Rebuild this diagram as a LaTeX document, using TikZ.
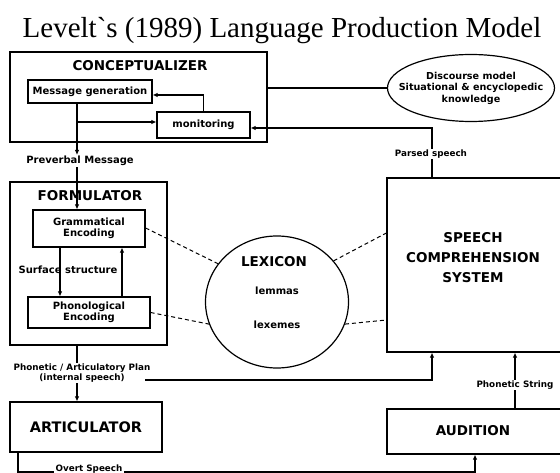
\documentclass[tikz,border=0pt]{standalone}
\usepackage{fontspec}
\usetikzlibrary{arrows.meta,shapes.geometric,calc}
\newfontfamily\titlefont{Liberation Serif}
\newfontfamily\labfont{DejaVu Sans}
\tikzset{
  box/.style={draw, line width=1.2pt, rectangle, inner sep=0pt},
  big/.style={font=\labfont\bfseries\fontsize{13.5}{15}\selectfont, inner sep=1pt, align=center},
  small/.style={font=\labfont\bfseries\fontsize{10}{11.5}\selectfont, inner sep=1pt, align=center},
  tiny/.style={font=\labfont\bfseries\fontsize{8.8}{10}\selectfont, inner sep=1pt, align=center},
  conn/.style={line width=1.6pt},
  arr/.style={line width=1.6pt, -{Latex[length=5pt,width=4.5pt]}},
  lexdash/.style={line width=1pt, dash pattern=on 4pt off 3pt},
  wlab/.style={fill=white, inner sep=1.5pt}
}
\begin{document}
\begin{tikzpicture}[x=1pt,y=-1pt]
\useasboundingbox[fill=white] (0,0) rectangle (560,473);
\clip (0,0) rectangle (560,473);
% title
\node[font=\titlefont\fontsize{29}{32}\selectfont, inner sep=0pt] (title) at (282,31) {Levelt\char"60s (1989) Language Production Model};
% conceptualizer
\node[box, minimum width=257pt, minimum height=90pt] (conc) at (138.5,97) {};
\node[big] (conct) at (140,66) {CONCEPTUALIZER};
\node[box, minimum width=124pt, minimum height=23pt, small] (mg) at (90,91.5) {Message generation};
\node[box, minimum width=93pt, minimum height=26pt, small] (mon) at (203.5,125) {monitoring};
% discourse ellipse
\node[draw, line width=1.2pt, ellipse, minimum width=167pt, minimum height=67pt, inner sep=0pt] (ell) at (471,88) {};
\node[small, font=\labfont\bfseries\fontsize{9.6}{11.5}\selectfont] (ellt) at (471,88) {Discourse model\\Situational \& encyclopedic\\knowledge};
% formulator
\node[box, minimum width=157pt, minimum height=163pt] (form) at (88.5,263.5) {};
\node[big] (formt) at (90,196) {FORMULATOR};
\node[box, minimum width=112pt, minimum height=37pt, small] (ge) at (89,228.5) {Grammatical\\Encoding};
\node[box, minimum width=122pt, minimum height=31pt, small] (pe) at (89,312.5) {Phonological\\Encoding};
\node[small] (ss) at (68,270) {Surface structure};
% lexicon
\node[draw, line width=1.2pt, ellipse, minimum width=143pt, minimum height=132pt, inner sep=0pt] (lex) at (277,302) {};
\node[big] (lext) at (274,262) {LEXICON};
\node[small] (lem) at (277,291) {lemmas};
\node[small] (lxm) at (277,325) {lexemes};
% speech comprehension
\node[box, minimum width=183pt, minimum height=174pt] (sc) at (478.5,265) {};
\node[big, font=\labfont\bfseries\fontsize{13.5}{20}\selectfont] (sct) at (473,258) {SPEECH\\COMPREHENSION\\SYSTEM};
% articulator, audition
\node[box, minimum width=152pt, minimum height=50pt, big, font=\labfont\bfseries\fontsize{14.5}{16}\selectfont] (art) at (86,427) {ARTICULATOR};
\node[box, minimum width=183pt, minimum height=45pt] (aud) at (478.5,431.5) {};
\node[big] (audt) at (473,431) {AUDITION};
% labels on connectors
\node[small] (pm) at (80,161) {Preverbal Message};
\node[tiny] (ps) at (431,154) {Parsed speech};
\node[tiny] (plan) at (82,373) {Phonetic / Articulatory Plan\\(internal speech)};
\node[tiny] (phs) at (515,385) {Phonetic String};
% connectors in conceptualizer
\coordinate (br) at (77,122);
\draw[arr] (mg.south -| br) -- (pm.north -| br);
\draw[arr] (br) -- (br -| mon.west);
\draw[arr] (mon.north) |- ([yshift=-3.5pt]mg.east);
\draw[arr] (pm.south -| br) -- (ge.north -| br);
\draw[conn] (conc.east |- ell.west) -- (ell.west);
\draw[conn] (sc.north -| 432,0) -- (ps.south -| 432,0);
\draw[arr] (ps.north -| 432,0) |- ([yshift=-3pt]mon.east);
% formulator internal
\draw[arr] (ge.south -| 60,0) -- (pe.north -| 60,0);
\draw[arr] (pe.north -| 122,0) -- (ge.south -| 122,0);
% lexicon dashed links
\draw[lexdash] (ge.east |- 0,228) -- (lex.147);
\draw[lexdash] (pe.east) -- (lex.198);
\draw[lexdash] (lex.36) -- (sc.west |- 0,233);
\draw[lexdash] (lex.-18) -- (sc.west |- 0,320);
% formulator to articulator
\draw[conn] (form.south -| 77,0) -- (plan.north -| 77,0);
\draw[arr] (plan.south -| 77,0) -- (art.north -| 77,0);
\coordinate (ip) at (145,380);
\draw[arr] (ip) -| (sc.south -| 432,0);
% audition to SC
\draw[conn] (aud.north -| phs) -- (phs.south);
\draw[arr] (phs.north) -- (phs.north |- sc.south);
% overt speech
\coordinate (os1) at (18,472);
\coordinate (os2) at (475,472);
\draw[arr] (art.south -| os1) -- (os1) -- (os2) -- (aud.south -| os2);
\node[tiny, wlab, inner ysep=0.5pt] (ovs) at (89,469) {Overt Speech};
\end{tikzpicture}
\end{document}
